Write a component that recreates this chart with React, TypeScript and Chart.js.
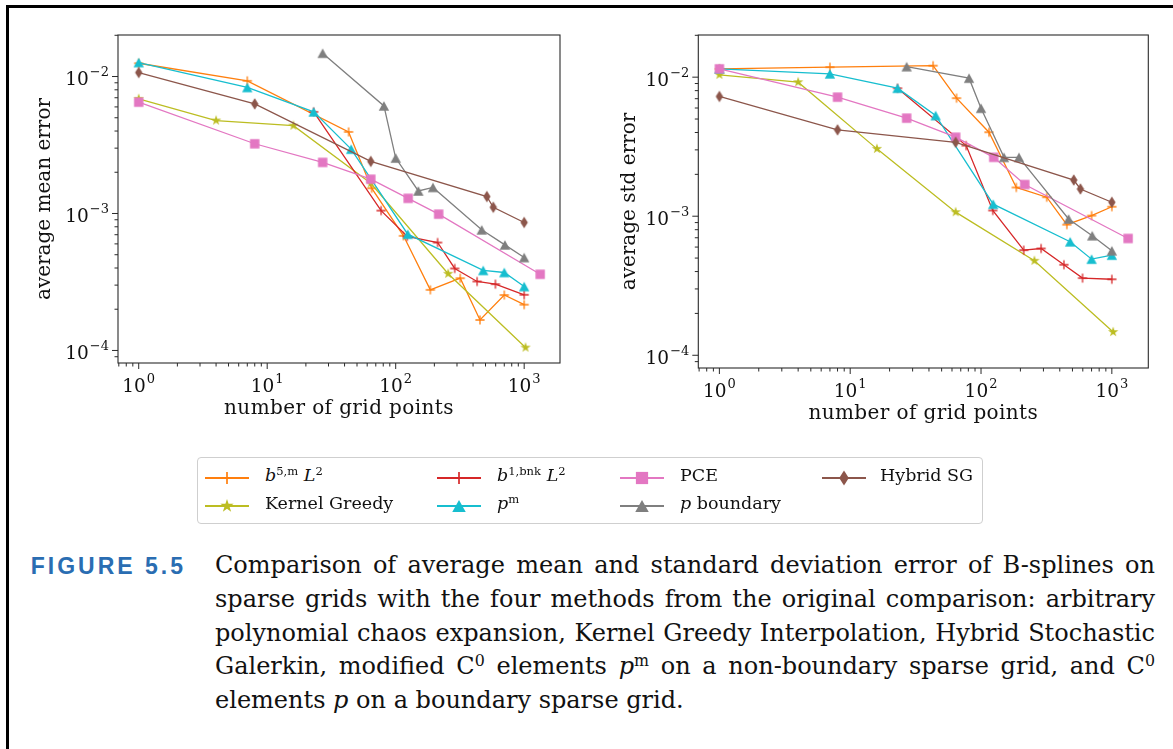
import React, { useEffect, useRef } from "react";
import { Chart, registerables } from "chart.js";

Chart.register(...registerables);

// ---------------- data (x = number of grid points) ----------------
const b5mX = [1, 7, 43, 65, 115, 186, 318, 453, 700, 1000];
const b5mMean = [0.0125, 0.0093, 0.00394, 0.00153, 0.000687, 0.000277, 0.000337, 0.000167, 0.000254, 0.000216];
const b5mStd = [0.01148, 0.0118, 0.0121, 0.00706, 0.00402, 0.00161, 0.00137, 0.00087, 0.00101, 0.00117];

const kgX = [1, 4, 16, 64, 256, 1024];
const kgMean = [0.00687, 0.00477, 0.00438, 0.00166, 0.000363, 0.000105];
const kgStd = [0.0104, 0.0092, 0.00305, 0.00107, 0.000478, 0.000147];

const b1X = [23, 77, 123, 212, 288, 430, 597, 1000];
const b1Mean = [0.00552, 0.00105, 0.00068, 0.000614, 0.000397, 0.000319, 0.000305, 0.000255];
const b1Std = [0.00833, 0.00322, 0.0011, 0.00057, 0.000586, 0.000448, 0.000359, 0.000352];

const pmX = [1, 7, 23, 45, 124, 480, 700, 1000];
const pmMean = [0.01265, 0.00832, 0.00552, 0.00295, 0.000706, 0.000384, 0.000371, 0.000293];
const pmStd = [0.01148, 0.01057, 0.00833, 0.0053, 0.00122, 0.000655, 0.000491, 0.000525];

const pceX = [1, 8, 27, 64, 125, 216, 1331];
const pceMean = [0.0065, 0.00323, 0.00236, 0.00178, 0.00129, 0.000989, 0.00036];
const pceStd = [0.01148, 0.00718, 0.00507, 0.0037, 0.00265, 0.00169, 0.000692];

const pbX = [27, 81, 100, 150, 195, 467, 708, 1000];
const pbMean = [0.0148, 0.0061, 0.00254, 0.00146, 0.00155, 0.00076, 0.00059, 0.000477];
const pbStd = [0.0119, 0.00984, 0.00598, 0.00265, 0.00265, 0.000955, 0.000724, 0.000564];

const hsgX = [1, 8, 64, 512, 575, 1000];
const hsgMean = [0.0107, 0.00631, 0.0024, 0.00133, 0.00111, 0.00086];
const hsgStd = [0.00726, 0.00418, 0.0034, 0.00182, 0.00157, 0.00126];

const xTickExps = [0, 1, 2, 3];
const yTickExps = [-4, -3, -2];
const X_MIN = 0.69;
const X_MAX = 1900;
const Y_MIN = 8.1e-5;
const Y_MAX = 0.0201;

type MarkerKind = "plus" | "star" | "triangle" | "square" | "diamond";

const SERIES: { color: string; marker: MarkerKind; x: number[]; mean: number[]; std: number[] }[] = [
  { color: "#ff7f0e", marker: "plus", x: b5mX, mean: b5mMean, std: b5mStd },
  { color: "#bcbd22", marker: "star", x: kgX, mean: kgMean, std: kgStd },
  { color: "#d62728", marker: "plus", x: b1X, mean: b1Mean, std: b1Std },
  { color: "#17becf", marker: "triangle", x: pmX, mean: pmMean, std: pmStd },
  { color: "#e377c2", marker: "square", x: pceX, mean: pceMean, std: pceStd },
  { color: "#7f7f7f", marker: "triangle", x: pbX, mean: pbMean, std: pbStd },
  { color: "#8c564b", marker: "diamond", x: hsgX, mean: hsgMean, std: hsgStd },
];

const SERIF = '"DejaVu Serif", serif';

// ---------------- markers ----------------
function drawMarker(ctx: CanvasRenderingContext2D, kind: MarkerKind, cx: number, cy: number, color: string, k: number) {
  ctx.save();
  ctx.fillStyle = color;
  ctx.strokeStyle = color;
  ctx.beginPath();
  if (kind === "plus") {
    const h = 4.6 * k;
    ctx.lineWidth = 1.3 * k;
    ctx.moveTo(cx - h, cy);
    ctx.lineTo(cx + h, cy);
    ctx.moveTo(cx, cy - h);
    ctx.lineTo(cx, cy + h);
    ctx.stroke();
  } else if (kind === "star") {
    const R = 5.4 * k;
    const r = R * 0.382;
    for (let i = 0; i < 10; i++) {
      const ang = -Math.PI / 2 + (i * Math.PI) / 5;
      const rad = i % 2 === 0 ? R : r;
      const px = cx + rad * Math.cos(ang);
      const py = cy + rad * Math.sin(ang);
      if (i === 0) ctx.moveTo(px, py);
      else ctx.lineTo(px, py);
    }
    ctx.closePath();
    ctx.fill();
  } else if (kind === "triangle") {
    const hw = 5.2 * k;
    const hh = 4.7 * k;
    ctx.moveTo(cx, cy - hh);
    ctx.lineTo(cx + hw, cy + hh);
    ctx.lineTo(cx - hw, cy + hh);
    ctx.closePath();
    ctx.fill();
  } else if (kind === "square") {
    const h = 4.7 * k;
    ctx.rect(cx - h, cy - h, 2 * h, 2 * h);
    ctx.fill();
  } else if (kind === "diamond") {
    const hw = 3.7 * k;
    const hh = 5.8 * k;
    ctx.moveTo(cx, cy - hh);
    ctx.lineTo(cx + hw, cy);
    ctx.lineTo(cx, cy + hh);
    ctx.lineTo(cx - hw, cy);
    ctx.closePath();
    ctx.fill();
  }
  ctx.restore();
}

function markerCanvas(kind: MarkerKind, color: string): HTMLCanvasElement {
  const c = document.createElement("canvas");
  c.width = 14;
  c.height = 14;
  const ctx = c.getContext("2d")!;
  drawMarker(ctx, kind, 7, 7, color, 1);
  return c;
}

// ---------------- axes plugin (matplotlib look) ----------------
function drawPow(ctx: CanvasRenderingContext2D, exp: number, x: number, y: number, align: "right" | "center") {
  const base = "10";
  const e = exp < 0 ? "\u2212" + String(-exp) : String(exp);
  ctx.font = `18.5px ${SERIF}`;
  const bw = ctx.measureText(base).width;
  ctx.font = `13px ${SERIF}`;
  const ew = ctx.measureText(e).width;
  const total = bw + 1 + ew;
  const x0 = align === "right" ? x - total : x - total / 2;
  ctx.textAlign = "left";
  ctx.textBaseline = "alphabetic";
  ctx.font = `18.5px ${SERIF}`;
  ctx.fillText(base, x0, y);
  ctx.font = `13px ${SERIF}`;
  ctx.fillText(e, x0 + bw + 1, y - 9);
}

function mplAxes(yTitle: string, yTitleX: number) {
  return {
    id: "mplAxes",
    afterDraw(chart: any) {
      const { ctx, chartArea: a } = chart;
      const xs = chart.scales.x;
      const ys = chart.scales.y;
      ctx.save();
      ctx.strokeStyle = "#2a2a2a";
      ctx.lineWidth = 1.1;
      ctx.strokeRect(a.left, a.top, a.right - a.left, a.bottom - a.top);
      ctx.lineWidth = 1;
      ctx.beginPath();
      for (let e = -6; e <= 4; e++) {
        for (let m = 1; m <= 9; m++) {
          const v = m * Math.pow(10, e);
          const len = m === 1 ? 6 : 3.5;
          if (v >= X_MIN && v <= X_MAX) {
            const p = xs.getPixelForValue(v);
            ctx.moveTo(p, a.bottom);
            ctx.lineTo(p, a.bottom + len);
          }
          if (v >= Y_MIN && v <= Y_MAX) {
            const p = ys.getPixelForValue(v);
            ctx.moveTo(a.left, p);
            ctx.lineTo(a.left - len, p);
          }
        }
      }
      ctx.stroke();
      ctx.fillStyle = "#111";
      xTickExps.forEach((e) => drawPow(ctx, e, xs.getPixelForValue(Math.pow(10, e)), a.bottom + 29, "center"));
      yTickExps.forEach((e) => drawPow(ctx, e, a.left - 9, ys.getPixelForValue(Math.pow(10, e)) + 8.5, "right"));
      ctx.font = `20px ${SERIF}`;
      ctx.textAlign = "center";
      ctx.textBaseline = "alphabetic";
      (ctx as any).letterSpacing = "0.4px";
      ctx.fillText("number of grid points", (a.left + a.right) / 2, a.bottom + 51);
      (ctx as any).letterSpacing = "0px";
      ctx.save();
      ctx.translate(yTitleX, (a.top + a.bottom) / 2);
      ctx.rotate(-Math.PI / 2);
      ctx.textBaseline = "middle";
      ctx.fillText(yTitle, 0, 0);
      ctx.restore();
      ctx.restore();
    },
  };
}

function Plot(props: {
  left: number;
  top: number;
  width: number;
  height: number;
  padding: { left: number; right: number; top: number; bottom: number };
  which: "mean" | "std";
  yTitle: string;
  yTitleX: number;
}) {
  const ref = useRef<HTMLCanvasElement>(null);
  useEffect(() => {
    const n = SERIES.length;
    const chart = new Chart(ref.current!, {
      type: "line",
      data: {
        datasets: SERIES.map((s, i) => ({
          data: s.x.map((xv, j) => ({ x: xv, y: (props.which === "mean" ? s.mean : s.std)[j] })),
          borderColor: s.color,
          backgroundColor: s.color,
          borderWidth: 1.3,
          pointStyle: markerCanvas(s.marker, s.color) as any,
          pointRadius: 5,
          pointHoverRadius: 5,
          tension: 0,
          fill: false,
          order: n - i,
        })),
      },
      options: {
        responsive: false,
        animation: false,
        events: [],
        layout: { padding: props.padding },
        plugins: { legend: { display: false }, tooltip: { enabled: false } },
        scales: {
          x: { type: "logarithmic", min: X_MIN, max: X_MAX, display: false },
          y: { type: "logarithmic", min: Y_MIN, max: Y_MAX, display: false },
        },
      },
      plugins: [mplAxes(props.yTitle, props.yTitleX)],
    } as any);
    return () => chart.destroy();
  }, []);
  return (
    <canvas
      ref={ref}
      width={props.width}
      height={props.height}
      style={{ position: "absolute", left: props.left, top: props.top, width: props.width, height: props.height }}
    />
  );
}

function LegendHandle(props: { kind: MarkerKind; color: string; left: number; top: number }) {
  const ref = useRef<HTMLCanvasElement>(null);
  useEffect(() => {
    const c = ref.current!;
    const ctx = c.getContext("2d")!;
    ctx.clearRect(0, 0, c.width, c.height);
    ctx.strokeStyle = props.color;
    ctx.lineWidth = 2;
    ctx.beginPath();
    ctx.moveTo(0, 11);
    ctx.lineTo(44, 11);
    ctx.stroke();
    drawMarker(ctx, props.kind, 22, 11, props.color, 1.3);
  }, []);
  return <canvas ref={ref} width={44} height={22} style={{ position: "absolute", left: props.left, top: props.top }} />;
}

const Sup = (p: { children: React.ReactNode }) => (
  <span style={{ fontSize: "0.66em", position: "relative", top: "-0.55em" }}>{p.children}</span>
);

const legendLabels: React.ReactNode[] = [
  <>
    <i>b</i>
    <Sup>5,m</Sup> <i>L</i>
    <Sup>2</Sup>
  </>,
  <>Kernel Greedy</>,
  <>
    <i>b</i>
    <Sup>1,bnk</Sup> <i>L</i>
    <Sup>2</Sup>
  </>,
  <>
    <i>p</i>
    <Sup>m</Sup>
  </>,
  <>PCE</>,
  <>
    <i>p</i> boundary
  </>,
  <>Hybrid SG</>,
];

const legendHandleX = [205, 437, 620, 822];
const legendTextX = [265, 497, 680, 880];
const legendRowY = [478, 506];

export default function App() {
  const captionLines: React.ReactNode[] = [
    <>Comparison of average mean and standard deviation error of B-splines on</>,
    <>sparse grids with the four methods from the original comparison: arbitrary</>,
    <>polynomial chaos expansion, Kernel Greedy Interpolation, Hybrid Stochastic</>,
    <>
      Galerkin, modified C<Sup>0</Sup> elements <i>p</i>
      <Sup>m</Sup> on a non-boundary sparse grid, and C<Sup>0</Sup>
    </>,
    <>
      elements <i>p</i> on a boundary sparse grid.
    </>,
  ];
  return (
    <div style={{ position: "absolute", left: 0, top: 0, width: 1173, height: 749, overflow: "hidden", background: "#fff" }}>
      <div
        style={{
          position: "absolute",
          left: 6,
          top: 5,
          width: 1200,
          height: 800,
          borderLeft: "3px solid #000",
          borderTop: "3px solid #000",
        }}
      />
      <Plot
        left={0}
        top={0}
        width={590}
        height={440}
        padding={{ left: 118, right: 30, top: 35, bottom: 77 }}
        which="mean"
        yTitle="average mean error"
        yTitleX={45}
      />
      <Plot
        left={590}
        top={0}
        width={583}
        height={440}
        padding={{ left: 108.3, right: 24.7, top: 35, bottom: 72 }}
        which="std"
        yTitle="average std error"
        yTitleX={40}
      />
      <div
        style={{
          position: "absolute",
          left: 197,
          top: 457,
          width: 784,
          height: 65,
          border: "1.5px solid #cfcfcf",
          borderRadius: 4,
        }}
      />
      {SERIES.map((s, i) => {
        const col = Math.floor(i / 2);
        const row = i % 2;
        return (
          <React.Fragment key={i}>
            <LegendHandle kind={s.marker} color={s.color} left={legendHandleX[col]} top={legendRowY[row] - 11} />
            <div
              style={{
                position: "absolute",
                left: legendTextX[col],
                top: legendRowY[row] - 13,
                height: 26,
                lineHeight: "26px",
                font: `17.5px ${SERIF}`,
                whiteSpace: "nowrap",
                color: "#111",
              }}
            >
              {legendLabels[i]}
            </div>
          </React.Fragment>
        );
      })}
      <div
        style={{
          position: "absolute",
          left: 0,
          top: 553,
          width: 186,
          height: 34,
          lineHeight: "34px",
          textAlign: "right",
          font: 'bold 23px "Liberation Sans", sans-serif',
          letterSpacing: "3px",
          color: "#2a6db2",
          whiteSpace: "nowrap",
        }}
      >
        FIGURE 5.5
      </div>
      {captionLines.map((ln, k) => (
        <div
          key={k}
          style={{
            position: "absolute",
            left: 215,
            top: 551 + k * 33.75,
            width: 940,
            height: 34,
            lineHeight: "34px",
            font: `24px ${SERIF}`,
            color: "#111",
            whiteSpace: "nowrap",
            textAlign: k === captionLines.length - 1 ? "left" : "justify",
            textAlignLast: k === captionLines.length - 1 ? "left" : "justify",
          }}
        >
          {ln}
        </div>
      ))}
    </div>
  );
}
